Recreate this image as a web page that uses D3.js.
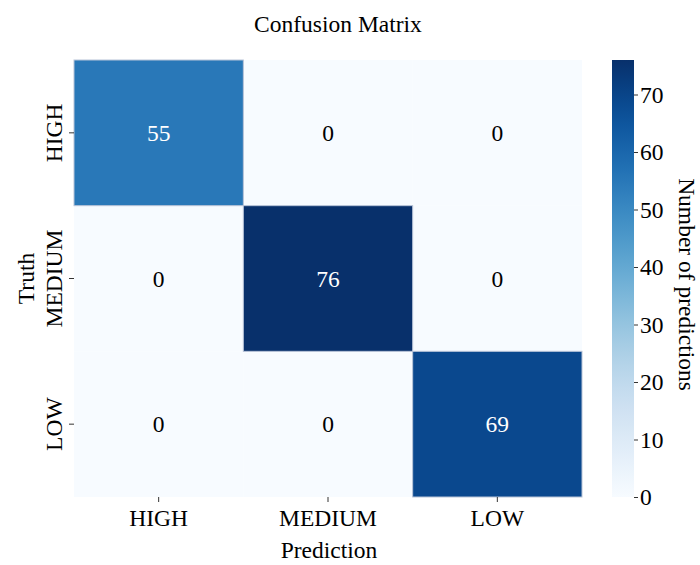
<!DOCTYPE html>
<html>
<head>
<meta charset="utf-8">
<script src="https://cdn.jsdelivr.net/npm/d3@7"></script>
<style>
  body { margin: 0; background: #fff; }
  text { font-family: "Liberation Serif", "Times New Roman", serif; }
</style>
</head>
<body>
<svg id="chart" width="700" height="565"></svg>
<script>
const truthLabels = ["HIGH", "MEDIUM", "LOW"];
const predLabels = ["HIGH", "MEDIUM", "LOW"];
const counts = [
  [55, 0, 0],
  [0, 76, 0],
  [0, 0, 69]
];
const cbarTicks = [0, 10, 20, 30, 40, 50, 60, 70];

const svg = d3.select("#chart");
const margins = { top: 60, left: 74, right: 582, bottom: 497 };
const fs = "23.5px";

const x = d3.scaleBand().domain(predLabels).range([margins.left, margins.right]);
const y = d3.scaleBand().domain(truthLabels).range([margins.top, margins.bottom]);

const vmax = d3.max(counts.flat());
const color = d3.scaleSequential(d3.interpolateBlues).domain([0, vmax]);

const cells = [];
counts.forEach((row, i) => {
  row.forEach((v, j) => {
    cells.push({ truth: truthLabels[i], pred: predLabels[j], value: v });
  });
});

// zero cells first so the borders of filled cells sit on top
cells.sort((a, b) => a.value - b.value);

const g = svg.append("g");
g.selectAll("rect")
  .data(cells)
  .join("rect")
  .attr("x", d => x(d.pred))
  .attr("y", d => y(d.truth))
  .attr("width", x.bandwidth())
  .attr("height", y.bandwidth())
  .attr("fill", d => color(d.value))
  .attr("stroke", d => d.value > 0 ? "#b8c4d8" : "none")
  .attr("stroke-width", 1);

g.selectAll("text")
  .data(cells)
  .join("text")
  .attr("x", d => x(d.pred) + x.bandwidth() / 2)
  .attr("y", d => y(d.truth) + y.bandwidth() / 2 + 8)
  .attr("text-anchor", "middle")
  .attr("font-size", fs)
  .attr("fill", d => d.value > vmax / 2 ? "#ffffff" : "#000000")
  .text(d => d.value);

// x axis
const xAxis = svg.append("g")
  .attr("transform", `translate(0,${margins.bottom})`)
  .call(d3.axisBottom(x).tickSize(5).tickPadding(7));
xAxis.select(".domain").remove();
xAxis.selectAll("line").attr("stroke", "#333");
xAxis.selectAll("text").attr("font-size", fs).attr("fill", "#000");

// y axis with rotated labels
const yAxis = svg.append("g")
  .attr("transform", `translate(${margins.left},0)`)
  .call(d3.axisLeft(y).tickSize(5).tickPadding(6));
yAxis.select(".domain").remove();
yAxis.selectAll("line").attr("stroke", "#333");
yAxis.selectAll("text")
  .attr("font-size", fs).attr("fill", "#000")
  .attr("x", 0).attr("dy", 0)
  .attr("transform", "translate(-17,0) rotate(-90)")
  .attr("text-anchor", "middle")
  .attr("dominant-baseline", "middle");

svg.append("text")
  .attr("x", (margins.left + margins.right) / 2 + 10)
  .attr("y", 31.5)
  .attr("text-anchor", "middle")
  .attr("font-size", fs)
  .text("Confusion Matrix");

svg.append("text")
  .attr("x", (margins.left + margins.right) / 2 + 1)
  .attr("y", 558)
  .attr("text-anchor", "middle")
  .attr("font-size", fs)
  .text("Prediction");

svg.append("text")
  .attr("transform", `translate(29,${(margins.top + margins.bottom) / 2}) rotate(-90)`)
  .attr("text-anchor", "middle")
  .attr("dominant-baseline", "middle")
  .attr("font-size", fs)
  .text("Truth");

// colorbar
const cbX = 612, cbW = 22;
const cbScale = d3.scaleLinear().domain([0, vmax]).range([margins.bottom, margins.top]);
const defs = svg.append("defs");
const grad = defs.append("linearGradient")
  .attr("id", "cbgrad")
  .attr("x1", 0).attr("y1", 1).attr("x2", 0).attr("y2", 0);
d3.range(0, 1.0001, 0.05).forEach(t => {
  grad.append("stop").attr("offset", t).attr("stop-color", d3.interpolateBlues(t));
});
svg.append("rect")
  .attr("x", cbX).attr("y", margins.top)
  .attr("width", cbW).attr("height", margins.bottom - margins.top)
  .attr("fill", "url(#cbgrad)");

const cbAxis = svg.append("g")
  .attr("transform", `translate(${cbX + cbW},0)`)
  .call(d3.axisRight(cbScale).tickValues(cbarTicks).tickSize(4).tickPadding(2));
cbAxis.select(".domain").remove();
cbAxis.selectAll("line").attr("stroke", "#333");
cbAxis.selectAll("text").attr("font-size", fs).attr("fill", "#000");

svg.append("text")
  .attr("transform", `translate(684,${(margins.top + margins.bottom) / 2 + 6}) rotate(90)`)
  .attr("text-anchor", "middle")
  .attr("dominant-baseline", "middle")
  .attr("font-size", fs)
  .text("Number of predictions");
</script>
</body>
</html>
